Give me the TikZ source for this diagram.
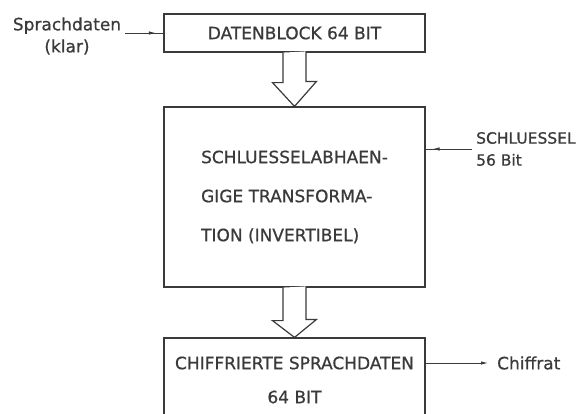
\documentclass[tikz,border=0pt]{standalone}
\usepackage{fontspec}
\setmainfont{DejaVu Sans}[FakeBold=0.7]
\usetikzlibrary{arrows.meta,decorations.markings}
\definecolor{ink}{HTML}{3A3A3A}

\begin{document}
\begin{tikzpicture}[x=1pt,y=-1pt,
  box/.style={draw=ink,line width=1.2pt,minimum width=261pt,text=ink,font=\fontsize{17}{22}\selectfont},
  tag/.style={text=ink,font=\fontsize{17}{22}\selectfont,inner sep=4pt},
  hollow/.style={draw=ink,line width=1.2pt,fill=white,line join=miter},
  midarrow/.style={draw=ink,line width=0.9pt,decoration={markings,mark=at position #1 with {\arrow{Latex[length=7pt,width=3.5pt]}}},postaction={decorate}},
  midarrow/.default=0.8]
  % Frame of the page
  \useasboundingbox (0,0) rectangle (583,413);

  % Boxes
  \node[box,minimum height=38pt] (datblock) at (294.5,33) {DATENBLOCK 64 BIT};
  \node[box,minimum height=180pt,align=left,font=\fontsize{17}{39}\selectfont] (trafo) at (294.5,197) {SCHLUESSELABHAEN-\\GIGE TRANSFORMA-\\TION (INVERTIBEL)};
  \node[box,minimum height=84pt,align=center,font=\fontsize{17}{34}\selectfont] (chiffre) at (294.5,380) {CHIFFRIERTE SPRACHDATEN\\64 BIT};

  % Hollow block arrows between the boxes
  \draw[hollow] (datblock.south) ++(-11.5,0) -- ++(0,30) -- ++(-10.5,0) -- (trafo.north) -- ++(22,-25) -- ++(-10.5,0) -- ++(0,-30);
  \draw[hollow] (trafo.south) ++(-11.5,0) -- ++(0,33) -- ++(-10.5,0) -- (chiffre.north) -- ++(22,-18) -- ++(-10.5,0) -- ++(0,-33);

  % Inputs and output
  \node[tag,align=center] (klar) at (67,36) {Sprachdaten\\(klar)};
  \draw[midarrow=0.8] (klar.east |- datblock.west) -- (datblock.west);

  \node[tag,align=left,anchor=west,font=\fontsize{15.5}{22}\selectfont] (key) at (472,149) {SCHLUESSEL\\56 Bit};
  \draw[midarrow=0.85] (key.west) -- (key.west -| trafo.east);

  \node[tag,anchor=west] (ciph) at (493,363) {Chiffrat};
  \draw[draw=ink,line width=0.9pt,-{Latex[length=7pt,width=3.5pt]},shorten >=5pt] (ciph.west -| chiffre.east) -- (ciph.west);
\end{tikzpicture}
\end{document}
